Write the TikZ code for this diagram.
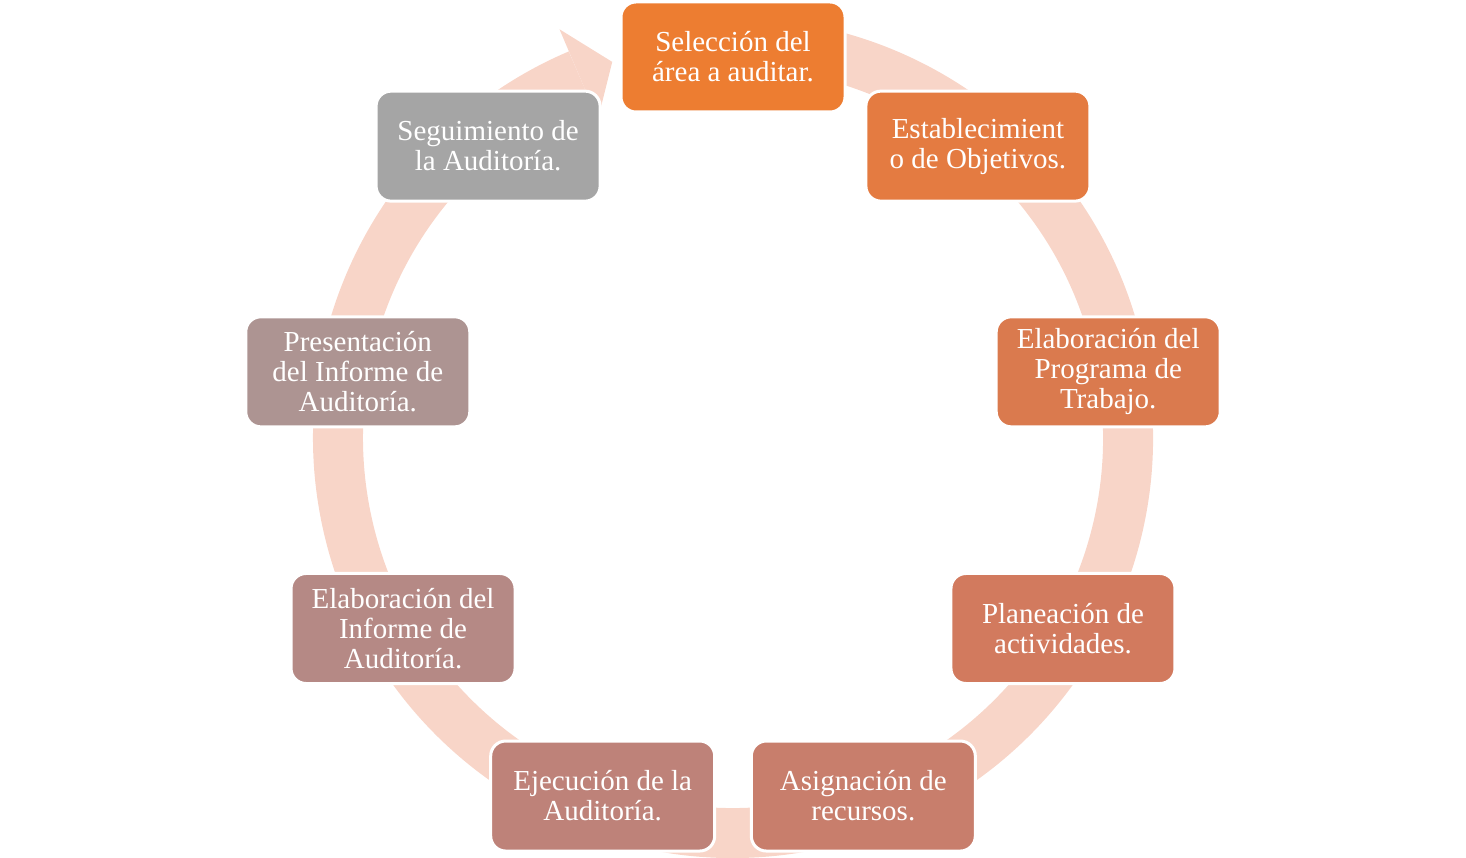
\documentclass[tikz,border=0pt]{standalone}
\usepackage{fontspec}
\setmainfont{Liberation Serif}
\definecolor{anilloc}{HTML}{F8D5C8}
\definecolor{paso1}{HTML}{ED7D31}
\definecolor{paso2}{HTML}{E47B41}
\definecolor{paso3}{HTML}{DA7A4E}
\definecolor{paso4}{HTML}{D27A5E}
\definecolor{paso5}{HTML}{C87E6C}
\definecolor{paso6}{HTML}{BE8279}
\definecolor{paso7}{HTML}{B58985}
\definecolor{paso8}{HTML}{AD9492}
\definecolor{paso9}{HTML}{A5A5A5}
\tikzset{
    paso/.style={draw=white, line width=3pt, rounded corners=15pt,
        minimum width=224pt, minimum height=110pt, inner sep=0pt,
        text=white, align=center, font=\fontsize{29}{30}\selectfont},
    anillo/.style={draw=anilloc, line width=50pt}
}
\begin{document}
\begin{tikzpicture}[x=1pt, y=1pt]
    \def \R {381}
    \def \Ra {395}
    \useasboundingbox (0,0) rectangle (1466,857);
    \begin{scope}[shift={(733,419)}]
    % anillo con flecha
    \draw[anillo] (100:\Ra) arc (100:-247:\Ra);
    \fill[anilloc] (113:346) -- (113:444) -- (107.8:\Ra) -- cycle;
    % pasos
    \node[paso, fill=paso1] (p1) at (90:\R) {Selección del\\área a auditar.};
    \node[paso, fill=paso2] (p2) at (50:\R) {Establecimient\\o de Objetivos.};
    \node[paso, fill=paso3] (p3) at (10:\R) {Elaboración del\\Programa de\\Trabajo.};
    \node[paso, fill=paso4] (p4) at (-30:\R) {Planeación de\\actividades.};
    \node[paso, fill=paso5] (p5) at (-70:\R) {Asignación de\\recursos.};
    \node[paso, fill=paso6] (p6) at (-110:\R) {Ejecución de la\\Auditoría.};
    \node[paso, fill=paso7] (p7) at (-150:\R) {Elaboración del\\Informe de\\Auditoría.};
    \node[paso, fill=paso8] (p8) at (170:\R) {Presentación\\del Informe de\\Auditoría.};
    \node[paso, fill=paso9] (p9) at (130:\R) {Seguimiento de\\la Auditoría.};
    \end{scope}
\end{tikzpicture}
\end{document}
